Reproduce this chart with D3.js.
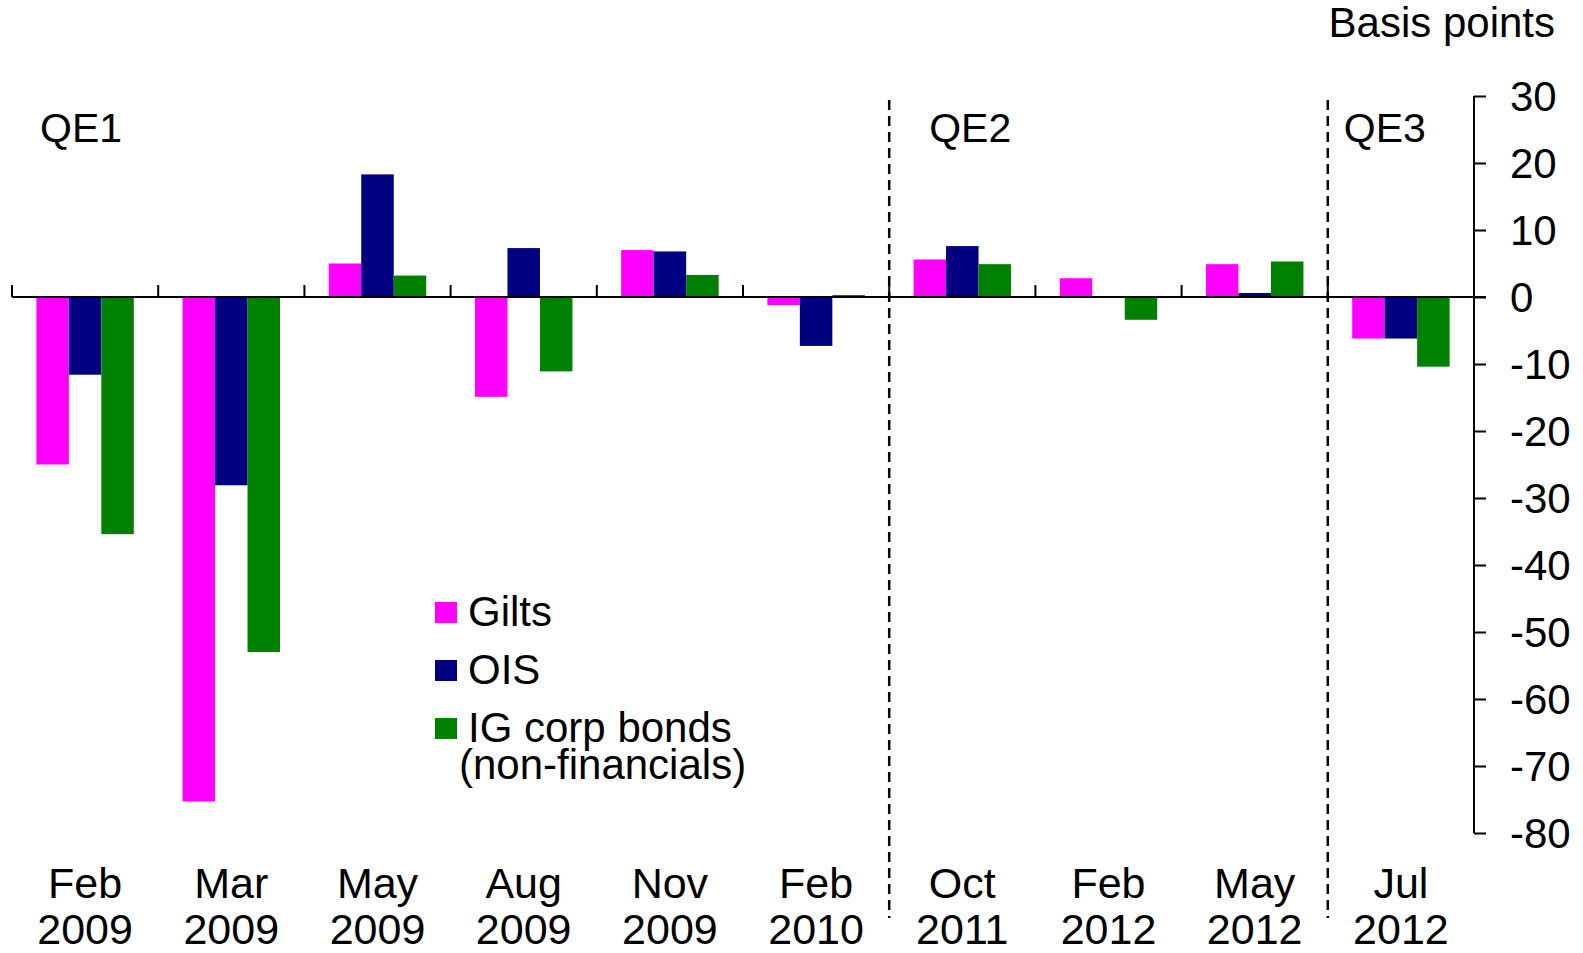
<!DOCTYPE html>
<html>
<head>
<meta charset="utf-8">
<script src="https://cdn.jsdelivr.net/npm/d3@7"></script>
<style>
  body { margin: 0; background: #fff; }
  text { font-family: "Liberation Sans", Arial, sans-serif; fill: #000; }
</style>
</head>
<body>
<div id="chart"></div>
<script>
// data (basis points)
const months = ["Feb", "Mar", "May", "Aug", "Nov", "Feb", "Oct", "Feb", "May", "Jul"];
const years = ["2009", "2009", "2009", "2009", "2009", "2010", "2011", "2012", "2012", "2012"];
const gilts = [-25, -75.3, 5, -14.9, 7, -1.2, 5.6, 2.8, 4.9, -6.2];
const ois = [-11.6, -28.1, 18.3, 7.3, 6.8, -7.3, 7.6, 0, 0.6, -6.2];
const corp = [-35.4, -53, 3.2, -11.1, 3.3, 0.3, 4.9, -3.4, 5.3, -10.4];
const seriesNames = ["Gilts", "OIS", "IG corp bonds"];
const colors = ["#ff00ff", "#000080", "#008000"];
const yTicks = [30, 20, 10, 0, -10, -20, -30, -40, -50, -60, -70, -80];
const phases = [{ label: "QE1", start: 0 }, { label: "QE2", start: 6 }, { label: "QE3", start: 9 }];

const W = 1583, H = 953;
const svg = d3.select("#chart").append("svg")
    .attr("width", W)
    .attr("height", H);

const cats = d3.range(months.length);
const x = d3.scaleBand().domain(cats).range([12, 1474]);
const xInner = d3.scaleBand().domain(d3.range(3)).range([0, x.bandwidth()]).paddingOuter(0.75);
const y = d3.scaleLinear().domain([-80, 30]).range([833, 96]);

const rows = cats.map(i => ({ i: i, vals: [gilts[i], ois[i], corp[i]] }));

// bars
svg.append("g").selectAll("g")
    .data(rows)
    .join("g")
    .attr("transform", d => "translate(" + x(d.i) + ",0)")
    .selectAll("rect")
    .data(d => d.vals.map((v, k) => ({ v: v, k: k })))
    .join("rect")
    .attr("x", d => xInner(d.k))
    .attr("width", xInner.bandwidth())
    .attr("y", d => y(Math.max(0, d.v)))
    .attr("height", d => Math.abs(y(d.v) - y(0)))
    .attr("fill", d => colors[d.k]);

// zero line with category ticks
svg.append("line")
    .attr("x1", x.range()[0]).attr("x2", 1486)
    .attr("y1", y(0)).attr("y2", y(0))
    .attr("stroke", "#000").attr("stroke-width", 2);
svg.append("g").selectAll("line")
    .data(cats)
    .join("line")
    .attr("x1", d => x(d)).attr("x2", d => x(d))
    .attr("y1", y(0)).attr("y2", y(0) - 12)
    .attr("stroke", "#000").attr("stroke-width", 2);

// right axis
const yAxis = d3.axisRight(y).tickValues(yTicks).tickSize(12).tickPadding(24)
    .tickSizeOuter(0).tickFormat(d => String(d));
const ag = svg.append("g")
    .attr("transform", "translate(1474,0)")
    .call(yAxis);
ag.select(".domain").attr("stroke-width", 2).attr("d", "M0," + y(30) + "V" + y(-80));
ag.selectAll(".tick line").attr("stroke-width", 2);
ag.selectAll(".tick text")
    .attr("font-size", 42)
    .attr("font-family", "Liberation Sans, Arial, sans-serif")
    .attr("dy", "0.35em");

svg.append("text")
    .attr("x", 1555).attr("y", 37)
    .attr("text-anchor", "end")
    .attr("font-size", 42)
    .text("Basis points");

// category labels
const lab = svg.append("g").selectAll("text")
    .data(cats)
    .join("text")
    .attr("text-anchor", "middle")
    .attr("font-size", 43);
lab.append("tspan")
    .attr("x", d => x(d) + x.bandwidth() / 2)
    .attr("y", 898)
    .text(d => months[d]);
lab.append("tspan")
    .attr("x", d => x(d) + x.bandwidth() / 2)
    .attr("y", 944)
    .text(d => years[d]);

// QE dividers and labels
svg.append("g").selectAll("line")
    .data(phases.slice(1))
    .join("line")
    .attr("x1", d => x(d.start)).attr("x2", d => x(d.start))
    .attr("y1", 100).attr("y2", 918)
    .attr("stroke", "#000").attr("stroke-width", 2.5)
    .attr("stroke-dasharray", "10,6");

const labelGap = { QE1: 28, QE2: 40, QE3: 16 };
svg.append("g").selectAll("text")
    .data(phases)
    .join("text")
    .attr("x", d => x(d.start) + labelGap[d.label])
    .attr("y", 142)
    .attr("font-size", 41)
    .text(d => d.label);

// legend
const leg = svg.append("g").attr("transform", "translate(435,602)");
seriesNames.forEach((name, k) => {
    const g = leg.append("g").attr("transform", "translate(0," + k * 58 + ")");
    g.append("rect").attr("width", 22).attr("height", 21).attr("fill", colors[k]);
    const t = g.append("text").attr("x", 33).attr("y", 24).attr("font-size", 42).text(name);
    if (k === 2) {
        t.text(null);
        t.append("tspan").attr("x", 33).text(name);
        t.append("tspan").attr("x", 24).attr("dy", 37).text("(non-financials)");
    }
});
</script>
</body>
</html>
